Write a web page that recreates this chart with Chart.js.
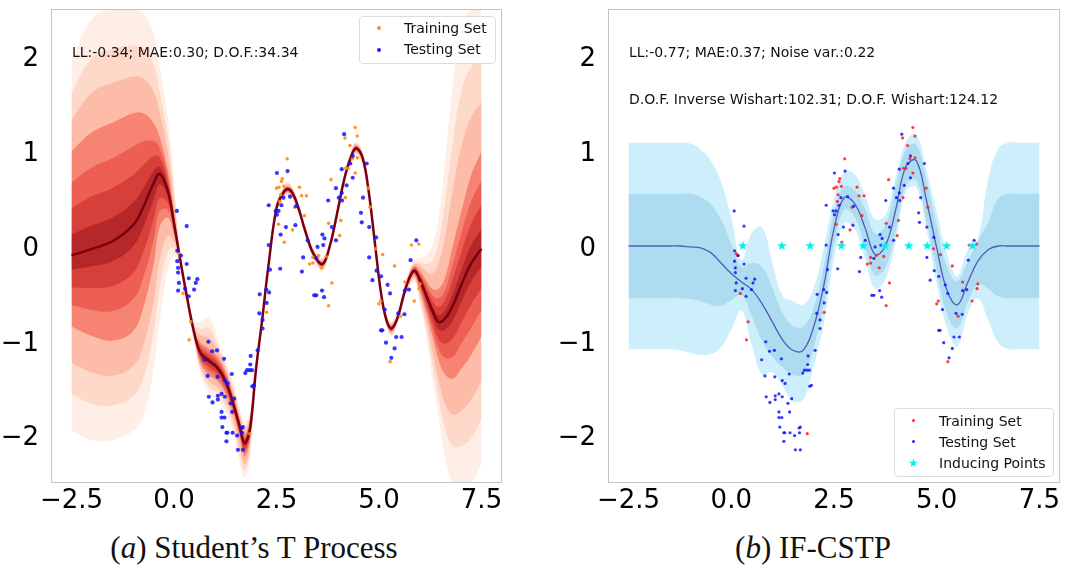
<!DOCTYPE html>
<html>
<head>
<meta charset="utf-8">
<script src="https://cdn.jsdelivr.net/npm/chart.js@4.4.1/dist/chart.umd.min.js"></script>
<style>
  body { margin: 0; background: #fff; width: 1076px; height: 568px; position: relative; overflow: hidden; font-family: "DejaVu Sans", sans-serif; }
  .pane { position: absolute; top: 0; }
  .note, .ltext { position: absolute; font-size: 14px; line-height: 14px; color: #111; white-space: nowrap; }
  .legend { position: absolute; border: 1px solid #dcdcdc; border-radius: 4px; background: rgba(255,255,255,0.85); }
  .dot { position: absolute; width: 4px; height: 4px; border-radius: 50%; }
  .star { position: absolute; color: #00f0f0; font-size: 12px; line-height: 12px; }
  .caption { position: absolute; width: 400px; text-align: center; font-family: "Liberation Serif", serif; font-size: 31px; line-height: 31px; color: #111; }
</style>
</head>
<body>
<div class="pane" style="left:0;width:520px;height:530px"><canvas id="stp" width="520" height="530"></canvas></div>
<div class="pane" style="left:540px;width:536px;height:530px"><canvas id="cstp" width="536" height="530"></canvas></div>

<div class="note" style="left:72px;top:45px">LL:-0.34; MAE:0.30; D.O.F.:34.34</div>
<div class="legend" style="left:359px;top:16px;width:135px;height:46px"></div>
<span class="dot" style="left:377px;top:26px;background:#ff8c1a"></span>
<div class="ltext" style="left:404px;top:21px">Training Set</div>
<span class="dot" style="left:377px;top:48px;background:#2020ff"></span>
<div class="ltext" style="left:404px;top:42px">Testing Set</div>

<div class="note" style="left:629px;top:45px">LL:-0.77; MAE:0.37; Noise var.:0.22</div>
<div class="note" style="left:629px;top:92px">D.O.F. Inverse Wishart:102.31; D.O.F. Wishart:124.12</div>
<div class="legend" style="left:894px;top:408px;width:158px;height:67px"></div>
<span class="dot" style="left:912px;top:419px;width:3px;height:3px;background:#ff2020"></span>
<div class="ltext" style="left:939px;top:414px">Training Set</div>
<span class="dot" style="left:912px;top:440px;width:3px;height:3px;background:#2020ff"></span>
<div class="ltext" style="left:939px;top:435px">Testing Set</div>
<span class="star" style="left:908px;top:457px">★</span>
<div class="ltext" style="left:939px;top:456px">Inducing Points</div>

<div class="caption" style="left:54px;top:532px">(<i>a</i>) Student’s T Process</div>
<div class="caption" style="left:613px;top:532px">(<i>b</i>) IF-CSTP</div>

<script>
// tick positions
const xTicks = [-2.5, 0, 2.5, 5, 7.5];
const yTicks = [-2, -1, 0, 1, 2];

// observations (shared by both panels)
const trainX = [0.12, 0.15, 0.22, 0.41, 0.37, 1.85, 2.26, 2.50, 2.55, 2.56, 2.62, 2.64, 2.68, 2.76, 2.60, 2.58, 2.69, 2.89, 2.94, 3.06, 3.11, 3.23, 3.18, 3.31, 3.39, 3.39, 3.53, 3.60, 3.71, 3.77, 3.85, 3.77, 3.83, 4.04, 4.07, 4.18, 4.19, 4.25, 4.17, 4.29, 4.42, 4.47, 4.35, 4.42, 4.47, 4.74, 4.78, 4.92, 5.09, 5.38, 5.00, 5.04, 5.52, 5.27, 5.63, 5.86, 5.98, 6.00, 5.79, 5.97];
const trainY = [-0.08, -0.10, -0.50, -0.80, -0.99, -1.98, -0.70, 0.61, 0.23, 0.62, 0.68, 0.71, 0.63, 0.92, 0.54, 0.47, 0.04, 0.17, 0.41, 0.62, 0.53, 0.53, 0.32, -0.19, -0.18, -0.12, -0.10, -0.23, -0.11, -0.63, -0.39, 0.24, 0.70, 0.11, 0.27, 0.51, 0.82, 0.82, 1.14, 1.06, 1.25, 1.16, 0.92, 0.77, 0.93, 0.61, 0.41, -0.03, -0.09, -0.21, -0.61, -0.58, -0.74, -1.22, -0.38, -0.58, -0.45, -0.40, 0.01, 0.02];
const testX = [0.07, 0.31, 0.08, 0.17, 0.08, 0.10, 0.10, 0.31, 0.36, 0.12, 0.27, 0.10, 0.36, 0.49, 0.53, 0.57,
  0.84, 0.93, 1.05, 0.74, 1.22, 0.82, 1.06, 1.24, 1.31, 1.41, 0.85, 0.94, 1.07, 1.07, 1.16, 1.24, 1.38, 1.47, 1.16, 1.42, 1.16, 1.23, 1.18, 1.28, 1.30, 1.43, 1.54, 1.65, 1.68, 1.66, 1.28, 1.56, 1.68,
  1.74, 1.78, 1.84, 1.90, 1.86, 1.87, 2.04, 1.91, 1.95, 2.08, 2.16, 2.16, 2.09, 2.25, 2.32, 2.26, 2.34, 2.31, 2.59, 2.31, 2.48, 2.51, 2.55, 2.51,
  2.62, 2.67, 2.77, 2.83, 2.73, 2.96, 2.98, 2.60, 3.15, 3.12, 3.26, 3.50, 3.47, 3.62, 3.67, 3.64, 3.42, 3.47, 3.61, 3.66, 3.76, 3.85, 3.95, 3.95, 4.09, 4.02, 4.09, 4.10, 4.15, 4.21, 4.30, 4.36, 4.36,
  4.70, 4.61, 4.56, 4.58, 4.76, 4.93, 4.76, 4.94, 5.05, 4.84, 5.21, 5.27, 5.14, 5.05, 5.08, 5.17, 5.42, 5.55, 5.38, 5.30, 5.47, 5.62, 5.63, 5.73, 5.77, 5.91];
const testY = [0.37, 0.21, -0.05, -0.10, -0.16, -0.23, -0.28, -0.19, -0.34, -0.39, -0.45, -0.47, -0.53, -0.46, -0.39, -0.35,
  -1.01, -1.11, -1.10, -1.20, -1.19, -1.37, -1.38, -1.42, -1.45, -1.35, -1.59, -1.65, -1.58, -1.62, -1.56, -1.59, -1.66, -1.61, -1.75, -1.75, -1.81, -1.81, -1.91, -1.97, -1.97, -1.97, -2.00, -1.92, -1.91, -1.97, -2.06, -2.15, -2.15,
  -1.34, -1.31, -1.31, -1.31, -1.25, -1.16, -1.10, -1.48, -1.47, -0.71, -0.78, -0.87, -0.51, -0.46, -0.49, -0.60, -0.25, 0.01, -0.24, 0.43, 0.37, 0.33, 0.37, 0.77,
  0.43, 0.51, 0.79, 0.52, 0.20, 0.22, 0.42, 0.12, -0.12, -0.27, 0.06, -0.01, -0.13, 0.12, 0.08, 0.01, -0.52, -0.52, -0.47, -0.54, 0.48, 0.20, 0.61, 0.06, 0.81, 0.51, 0.56, 0.48, 1.18, 0.64, 0.87, 0.95, 0.72,
  0.87, 0.51, 0.35, 0.25, 0.20, 0.09, -0.12, -0.26, -0.32, -0.36, -0.41, -0.50, -0.67, -0.89, -0.89, -1.02, -0.96, -0.96, -1.08, -1.18, -0.71, -0.72, -0.47, -0.46, -0.15, 0.06];

// (a) Student's T process: mean and sample density envelopes
const stpX = [-2.5, -2.0, -1.5, -1.0, -0.75, -0.5, -0.35, -0.15, 0, 0.15, 0.3, 0.5, 0.65, 0.85, 1.05, 1.25, 1.45, 1.6, 1.72, 1.85, 2.0, 2.15, 2.3, 2.5, 2.65, 2.77, 2.9, 3.05, 3.2, 3.4, 3.62, 3.8, 4.0, 4.15, 4.3, 4.44, 4.6, 4.75, 4.9, 5.05, 5.18, 5.3, 5.45, 5.6, 5.72, 5.86, 6.0, 6.15, 6.3, 6.45, 6.6, 6.8, 7.0, 7.25, 7.5];
const stpMean = [-0.10, -0.03, 0.05, 0.22, 0.41, 0.66, 0.76, 0.58, 0.24, -0.14, -0.50, -0.93, -1.13, -1.21, -1.28, -1.42, -1.67, -1.90, -2.08, -1.94, -1.30, -0.78, -0.22, 0.40, 0.55, 0.60, 0.55, 0.38, 0.16, -0.08, -0.19, 0.00, 0.39, 0.70, 0.92, 1.03, 0.93, 0.57, 0.03, -0.50, -0.78, -0.87, -0.76, -0.52, -0.36, -0.26, -0.36, -0.52, -0.68, -0.80, -0.77, -0.63, -0.42, -0.18, -0.03];
const stpCoreUp = [1.00, 1.20, 1.30, 1.40, 1.40, 1.30, 1.15, 0.80, 0.36, -0.11, -0.47, -0.89, -1.02, -1.08, -1.16, -1.32, -1.58, -1.82, -1.98, -1.85, -1.27, -0.755, -0.195, 0.425, 0.58, 0.63, 0.58, 0.405, 0.185, -0.055, -0.16, 0.025, 0.415, 0.725, 0.95, 1.06, 0.96, 0.595, 0.055, -0.475, -0.75, -0.835, -0.73, -0.49, -0.32, -0.21, -0.26, -0.36, -0.45, -0.45, -0.35, 0.00, 0.35, 0.75, 1.00];
const stpCoreLo = [-0.85, -0.95, -1.00, -0.90, -0.65, -0.20, 0.20, 0.30, 0.12, -0.17, -0.53, -0.97, -1.24, -1.36, -1.42, -1.55, -1.78, -2.02, -2.22, -2.05, -1.33, -0.805, -0.245, 0.375, 0.52, 0.57, 0.52, 0.355, 0.135, -0.105, -0.22, -0.025, 0.365, 0.675, 0.89, 1.00, 0.90, 0.545, 0.005, -0.525, -0.81, -0.905, -0.79, -0.55, -0.40, -0.31, -0.48, -0.70, -0.95, -1.20, -1.35, -1.40, -1.30, -1.15, -0.95];
const stpHaloUp = [1.95, 2.40, 2.50, 2.50, 2.45, 2.25, 1.90, 1.35, 0.70, -0.05, -0.40, -0.80, -0.80, -0.75, -0.95, -1.20, -1.45, -1.70, -1.85, -1.75, -1.22, -0.72, -0.16, 0.46, 0.62, 0.68, 0.62, 0.44, 0.22, -0.02, -0.12, 0.06, 0.45, 0.76, 0.99, 1.10, 1.00, 0.63, 0.09, -0.44, -0.71, -0.79, -0.69, -0.45, -0.27, -0.15, -0.12, -0.10, 0.00, 0.30, 0.85, 1.70, 2.30, 2.50, 2.50];
const stpHaloLo = [-1.95, -2.05, -2.05, -1.95, -1.80, -1.30, -0.80, -0.25, -0.10, -0.24, -0.60, -1.05, -1.35, -1.55, -1.62, -1.75, -1.98, -2.28, -2.45, -2.25, -1.38, -0.84, -0.28, 0.34, 0.48, 0.52, 0.48, 0.32, 0.10, -0.14, -0.27, -0.06, 0.33, 0.64, 0.85, 0.96, 0.86, 0.51, -0.03, -0.56, -0.85, -0.95, -0.83, -0.59, -0.45, -0.38, -0.62, -0.95, -1.40, -1.80, -2.20, -2.50, -2.55, -2.50, -2.30];

// (b) IF-CSTP: predictive mean and two credible bands
const gridX = [-2.5, -2.25, -2.0, -1.75, -1.5, -1.25, -1.0, -0.75, -0.5, -0.25, 0, 0.25, 0.5, 0.75, 1.0, 1.25, 1.5, 1.75, 2.0, 2.25, 2.5, 2.75, 3.0, 3.25, 3.5, 3.75, 4.0, 4.25, 4.5, 4.75, 5.0, 5.25, 5.5, 5.75, 6.0, 6.25, 6.5, 6.75, 7.0, 7.25, 7.5];
const cstpMean = [0, 0, 0, 0, 0, 0, -0.01, -0.02, -0.07, -0.18, -0.29, -0.38, -0.46, -0.61, -0.80, -0.99, -1.10, -1.10, -0.86, -0.42, 0.18, 0.51, 0.45, 0.20, -0.09, 0.00, 0.38, 0.84, 0.90, 0.48, -0.02, -0.47, -0.62, -0.39, -0.16, -0.04, 0, 0, 0, 0, 0];
const cstpInnerUp = [0.55, 0.55, 0.55, 0.55, 0.55, 0.55, 0.55, 0.52, 0.44, 0.28, 0.02, -0.22, -0.18, -0.22, -0.44, -0.71, -0.84, -0.85, -0.66, -0.22, 0.35, 0.63, 0.59, 0.40, 0.13, 0.22, 0.62, 1.02, 1.07, 0.70, 0.22, -0.22, -0.37, -0.17, 0.05, 0.25, 0.50, 0.55, 0.55, 0.55, 0.55];
const cstpInnerLo = [-0.55, -0.55, -0.55, -0.55, -0.55, -0.55, -0.56, -0.58, -0.62, -0.63, -0.57, -0.52, -0.74, -1.00, -1.17, -1.28, -1.36, -1.35, -1.08, -0.62, 0.01, 0.38, 0.31, 0.00, -0.31, -0.23, 0.15, 0.64, 0.70, 0.26, -0.26, -0.72, -0.87, -0.60, -0.40, -0.45, -0.53, -0.55, -0.55, -0.55, -0.55];
const cstpOuterUp = [1.09, 1.09, 1.09, 1.09, 1.09, 1.09, 1.08, 1.02, 0.90, 0.68, 0.30, -0.15, 0.14, 0.20, -0.18, -0.53, -0.58, -0.62, -0.45, -0.02, 0.50, 0.78, 0.76, 0.54, 0.28, 0.33, 0.72, 1.10, 1.18, 0.80, 0.36, -0.09, -0.32, -0.04, 0.08, 0.70, 1.03, 1.09, 1.09, 1.09, 1.09];
const cstpOuterLo = [-1.09, -1.09, -1.09, -1.09, -1.09, -1.10, -1.13, -1.15, -1.14, -1.07, -0.88, -0.68, -1.05, -1.36, -1.33, -1.48, -1.64, -1.62, -1.28, -0.82, -0.14, 0.24, 0.18, -0.13, -0.45, -0.35, 0.04, 0.58, 0.62, 0.18, -0.40, -0.87, -1.06, -0.72, -0.55, -0.78, -1.02, -1.09, -1.09, -1.09, -1.09];
const inducingX = [0.28, 1.23, 1.92, 2.68, 3.21, 3.74, 4.32, 4.77, 5.24, 5.87];
const inducingY = [0, 0, 0, 0, 0, 0, 0, 0, 0, 0];

const pts = (xs, ys) => xs.map((x, i) => ({ x, y: ys[i] }));
const mix = (a, b, t) => a.map((v, i) => v + (b[i] - v) * t);

function band(xs, up, lo, color, order) {
  const line = { showLine: true, pointRadius: 0, borderWidth: 0, tension: 0.4, order };
  return [
    { ...line, data: pts(xs, up), fill: '+1', backgroundColor: color },
    { ...line, data: pts(xs, lo), fill: false }
  ];
}

function starImage(r, color) {
  const c = document.createElement('canvas');
  c.width = c.height = 2 * r + 2;
  const g = c.getContext('2d');
  g.beginPath();
  for (let i = 0; i < 10; i++) {
    const rad = i % 2 ? r * 0.42 : r;
    const a = -Math.PI / 2 + i * Math.PI / 5;
    g.lineTo(r + 1 + rad * Math.cos(a), r + 1 + rad * Math.sin(a));
  }
  g.closePath();
  g.fillStyle = color;
  g.fill();
  return c;
}

// light grey box around the plot area
const frame = {
  id: 'frame',
  afterDraw(chart) {
    const { ctx, chartArea: a } = chart;
    ctx.save();
    ctx.strokeStyle = '#c4c4c4';
    ctx.lineWidth = 1;
    ctx.strokeRect(a.left + 0.5, a.top + 0.5, a.right - a.left - 1, a.bottom - a.top - 1);
    ctx.restore();
  }
};

const tickFont = { family: 'DejaVu Sans', size: 26, lineHeight: 1 };
const minus = s => s.replace('-', '\u2212');

function makeChart(id, datasets, yWidth, padRight) {
  return new Chart(document.getElementById(id), {
    type: 'scatter',
    data: { datasets },
    plugins: [frame],
    options: {
      responsive: false,
      animation: false,
      devicePixelRatio: 1,
      layout: { padding: { top: 9, right: padRight, bottom: 0, left: 0 } },
      plugins: { legend: { display: false }, tooltip: { enabled: false } },
      scales: {
        x: {
          type: 'linear', min: -3, max: 8,
          afterBuildTicks: s => { s.ticks = xTicks.map(v => ({ value: v })); },
          afterFit: s => { s.height = 47; s.paddingLeft = 0; s.paddingRight = 0; },
          ticks: { callback: v => minus(v.toFixed(1)), font: tickFont, color: '#000', padding: -3, maxRotation: 0, autoSkip: false },
          grid: { display: false },
          border: { display: false }
        },
        y: {
          min: -2.5, max: 2.5,
          afterBuildTicks: s => { s.ticks = yTicks.map(v => ({ value: v })); },
          afterFit: s => { s.width = yWidth; s.paddingTop = 0; s.paddingBottom = 0; },
          ticks: { callback: v => minus(String(v)), font: tickFont, color: '#000', padding: 4, labelOffset: 3 },
          grid: { display: false },
          border: { display: false }
        }
      }
    }
  });
}

// left panel: the sample cloud is drawn as nested translucent layers
const stpLayers = [
  [mix(stpMean, stpCoreUp, 0.2), mix(stpMean, stpCoreLo, 0.2), 'rgba(140,8,18,0.45)'],
  [mix(stpMean, stpCoreUp, 0.45), mix(stpMean, stpCoreLo, 0.45), 'rgba(185,18,25,0.4)'],
  [mix(stpMean, stpCoreUp, 0.7), mix(stpMean, stpCoreLo, 0.7), 'rgba(220,40,35,0.4)'],
  [stpCoreUp, stpCoreLo, 'rgba(239,65,48,0.45)'],
  [mix(stpCoreUp, stpHaloUp, 0.35), mix(stpCoreLo, stpHaloLo, 0.35), 'rgba(250,120,90,0.3)'],
  [mix(stpCoreUp, stpHaloUp, 0.65), mix(stpCoreLo, stpHaloLo, 0.65), 'rgba(252,165,135,0.3)'],
  [stpHaloUp, stpHaloLo, 'rgba(254,226,212,0.6)']
];
makeChart('stp', [
  { data: pts(testX, testY), pointRadius: 2.1, pointBackgroundColor: 'rgba(20,20,255,0.85)', pointBorderWidth: 0, order: 0 },
  { data: pts(trainX, trainY), pointRadius: 1.8, pointBackgroundColor: 'rgba(255,140,20,0.9)', pointBorderWidth: 0, order: 1 },
  { data: pts(stpX, stpMean), showLine: true, pointRadius: 0, borderColor: '#7a0010', borderWidth: 2.5, tension: 0.4, order: 2 },
  ...stpLayers.flatMap((l, k) => band(stpX, l[0], l[1], l[2], 3 + k))
], 51, 18);

// right panel
makeChart('cstp', [
  { data: pts(inducingX, inducingY), pointStyle: starImage(5, '#00f0f0'), order: 0 },
  { data: pts(testX, testY), pointRadius: 1.6, pointBackgroundColor: 'rgba(20,20,255,0.85)', pointBorderWidth: 0, order: 1 },
  { data: pts(trainX, trainY), pointRadius: 1.6, pointBackgroundColor: 'rgba(255,30,30,0.85)', pointBorderWidth: 0, order: 2 },
  { data: pts(gridX, cstpMean), showLine: true, pointRadius: 0, borderColor: 'rgba(70,80,180,0.9)', borderWidth: 1.3, tension: 0.4, order: 3 },
  ...band(gridX, cstpInnerUp, cstpInnerLo, '#addcf0', 4),
  ...band(gridX, cstpOuterUp, cstpOuterLo, '#cdeffc', 5)
], 68, 16);
</script>
</body>
</html>
